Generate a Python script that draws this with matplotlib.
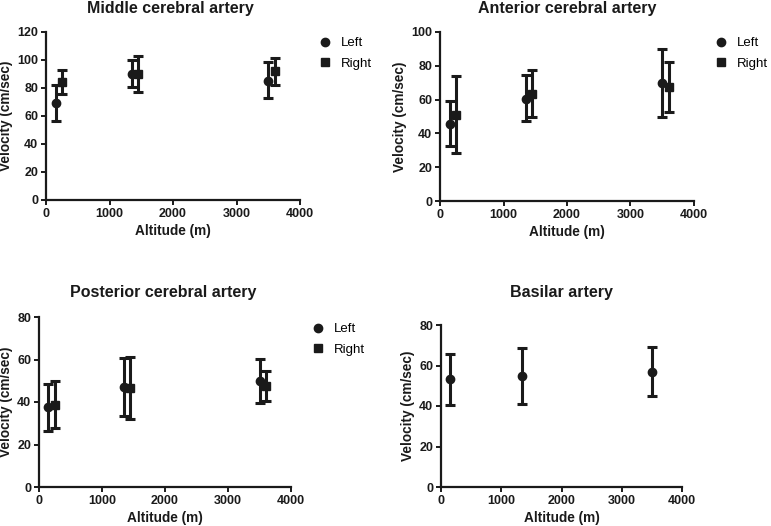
import matplotlib
matplotlib.use("Agg")
import matplotlib.pyplot as plt
import numpy as np

plt.rcParams['font.family'] = ['Liberation Sans', 'DejaVu Sans']

# Altitudes (m)
alt_left = [150, 1350, 3500]
alt_right = [250, 1450, 3600]

# Middle cerebral artery
mca_left = [69, 90, 85]
mca_left_lo = [56.7, 80.5, 72.6]
mca_left_hi = [81.9, 99.8, 98.3]
mca_right = [84, 90, 92]
mca_right_lo = [75.5, 77.1, 82.4]
mca_right_hi = [92.6, 102.9, 101.7]

# Anterior cerebral artery
aca_left = [45.4, 60.4, 70]
aca_left_lo = [32.3, 47.1, 49.9]
aca_left_hi = [59, 74.4, 90.1]
aca_right = [50.9, 63.1, 67.3]
aca_right_lo = [28.6, 49.5, 52.5]
aca_right_hi = [73.8, 77.5, 82.2]

# Posterior cerebral artery
pca_left = [37.5, 47, 49.8]
pca_left_lo = [26.2, 33.4, 39.4]
pca_left_hi = [48.5, 60.6, 60.2]
pca_right = [38.4, 46.5, 47.4]
pca_right_lo = [27.7, 32.1, 40.5]
pca_right_hi = [50, 61.2, 54.7]

# Basilar artery
ba_alt = [150, 1350, 3500]
ba_vel = [53.4, 54.9, 56.9]
ba_lo = [40.7, 41.2, 45]
ba_hi = [65.8, 68.6, 69.1]

W, H = 771, 526
fig = plt.figure(figsize=(W / 100, H / 100), dpi=100)
C = '#1a1a1a'


def add_ax(l, r, t, b):
    return fig.add_axes([l / W, 1 - b / H, (r - l) / W, (b - t) / H])


def style(ax, title, ymax, tx, ty):
    ax.set_xlim(0, 4000)
    ax.set_ylim(0, ymax)
    ax.set_xticks([0, 1000, 2000, 3000, 4000])
    ax.set_yticks(np.arange(0, ymax + 1, 20))
    for s in ['top', 'right']:
        ax.spines[s].set_visible(False)
    for s in ['left', 'bottom']:
        ax.spines[s].set_linewidth(1.6)
        ax.spines[s].set_color(C)
    ax.tick_params(direction='out', length=3.5, width=1.4, colors=C,
                   labelsize=9, pad=2)
    for lab in ax.get_xticklabels() + ax.get_yticklabels():
        lab.set_fontweight('bold')
    ax.set_xlabel('Altitude (m)', fontsize=9.8, fontweight='bold', color=C, labelpad=3)
    ax.set_ylabel('Velocity (cm/sec)', fontsize=9.8, fontweight='bold', color=C, labelpad=3)
    fig.text(tx / W, 1 - ty / H, title, fontsize=11.5, fontweight='bold', color=C,
             ha='center', va='center')


def series(ax, x, v, lo, hi, marker, label):
    v = np.array(v)
    yerr = [v - np.array(lo), np.array(hi) - v]
    ax.errorbar(x, v, yerr=yerr, fmt=marker, color=C, ms=6 if marker == 'o' else 5.5,
                elinewidth=2.2, capsize=3.4, capthick=2.2, label=label, zorder=3)


def legend(ax, fx, fy):
    h, l = ax.get_legend_handles_labels()
    h = [hh[0] for hh in h]
    ax.legend(h, l, loc='upper left', bbox_to_anchor=(fx / W, 1 - fy / H),
              bbox_transform=fig.transFigure, frameon=False, fontsize=9.5,
              handlelength=1.0, handletextpad=0.7, labelspacing=0.65,
              borderaxespad=0, borderpad=0)


ax1 = add_ax(46, 300, 32, 200)
series(ax1, alt_left, mca_left, mca_left_lo, mca_left_hi, 'o', 'Left')
series(ax1, alt_right, mca_right, mca_right_lo, mca_right_hi, 's', 'Right')
style(ax1, 'Middle cerebral artery', 120, 170, 8)
legend(ax1, 318, 37)

ax2 = add_ax(440, 694, 32, 201)
series(ax2, alt_left, aca_left, aca_left_lo, aca_left_hi, 'o', 'Left')
series(ax2, alt_right, aca_right, aca_right_lo, aca_right_hi, 's', 'Right')
style(ax2, 'Anterior cerebral artery', 100, 567, 8)
legend(ax2, 714, 37)

ax3 = add_ax(39, 291, 317, 487)
series(ax3, alt_left, pca_left, pca_left_lo, pca_left_hi, 'o', 'Left')
series(ax3, alt_right, pca_right, pca_right_lo, pca_right_hi, 's', 'Right')
style(ax3, 'Posterior cerebral artery', 80, 163, 292)
legend(ax3, 311, 323)

ax4 = add_ax(441, 682, 325, 487)
series(ax4, ba_alt, ba_vel, ba_lo, ba_hi, 'o', None)
style(ax4, 'Basilar artery', 80, 561, 293)

fig.savefig('out.png', dpi=100)
